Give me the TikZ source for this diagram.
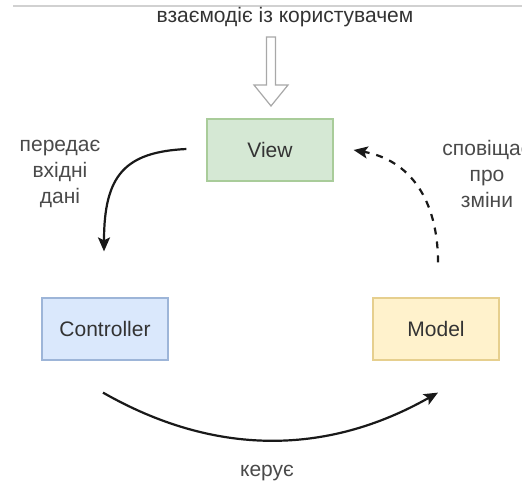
\documentclass[tikz,border=0pt]{standalone}
\usepackage{fontspec}
\setmainfont{Liberation Sans}
\usetikzlibrary{arrows.meta,calc}
\definecolor{viewfill}{HTML}{D5E8D4}
\definecolor{viewdraw}{HTML}{A9CC9A}
\definecolor{ctrlfill}{HTML}{DAE8FC}
\definecolor{ctrldraw}{HTML}{9DB5D8}
\definecolor{modelfill}{HTML}{FFF2CC}
\definecolor{modeldraw}{HTML}{E6CF8E}
\definecolor{txt}{HTML}{333333}
\definecolor{lbl}{HTML}{4A4A4A}
\definecolor{blockgray}{HTML}{A8A8A8}
\begin{document}
\begin{tikzpicture}[x=1pt,y=-1pt,
  box/.style={rectangle, minimum width=126, minimum height=62, line width=1.2pt, text=txt, font=\fontsize{21}{25}\selectfont},
  lab/.style={text=lbl, align=center, font=\fontsize{21}{26}\selectfont},
  conn/.style={line width=2.2pt, draw=black!90, -{Stealth[length=14pt,width=12pt,inset=3pt]}}
]
\useasboundingbox (0,0) rectangle (522,482);
\fill[white] (0,0) rectangle (522,482);
% top rule
\draw[line width=1.4pt, draw=black!18] (13,6) -- (522,6);

% nodes
\node[box, fill=viewfill, draw=viewdraw] (view) at (270,150) {View};
\node[box, fill=ctrlfill, draw=ctrldraw] (ctrl) at (105,329) {Controller};
\node[box, fill=modelfill, draw=modeldraw] (model) at (436,329) {Model};

% labels
\node[lab, text=black!80] (top) at (285,17) {взаємодіє із користувачем};
\node[lab] (llab) at (60,174) {передає\\вхідні\\дані};
\node[lab] (rlab) at (487,174) {сповіщає\\про\\зміни};
\node[lab] (blab) at (267,473) {керує};

% block arrow
\draw[line width=1.2pt, draw=blockgray, fill=white, line join=miter]
  (266.5,37) -- (275.5,37) -- (275.5,85) -- (288,85) -- (271,106) -- (254,85) -- (266.5,85) -- cycle;

% connectors
\draw[conn] ($(view.west)+(-20,-1)$) .. controls (125,152) and (104,175) .. ($(ctrl.north)+(-1,-46)$);
\draw[conn, dash pattern=on 7pt off 7pt] ($(model.north)+(2,-35)$) .. controls (438,200) and (410,160) .. ($(view.east)+(20,0)$);
\draw[conn] ($(ctrl.south)+(-2,32)$) .. controls (214,456) and (326,456) .. ($(model.south)+(2,32)$);
\end{tikzpicture}
\end{document}
